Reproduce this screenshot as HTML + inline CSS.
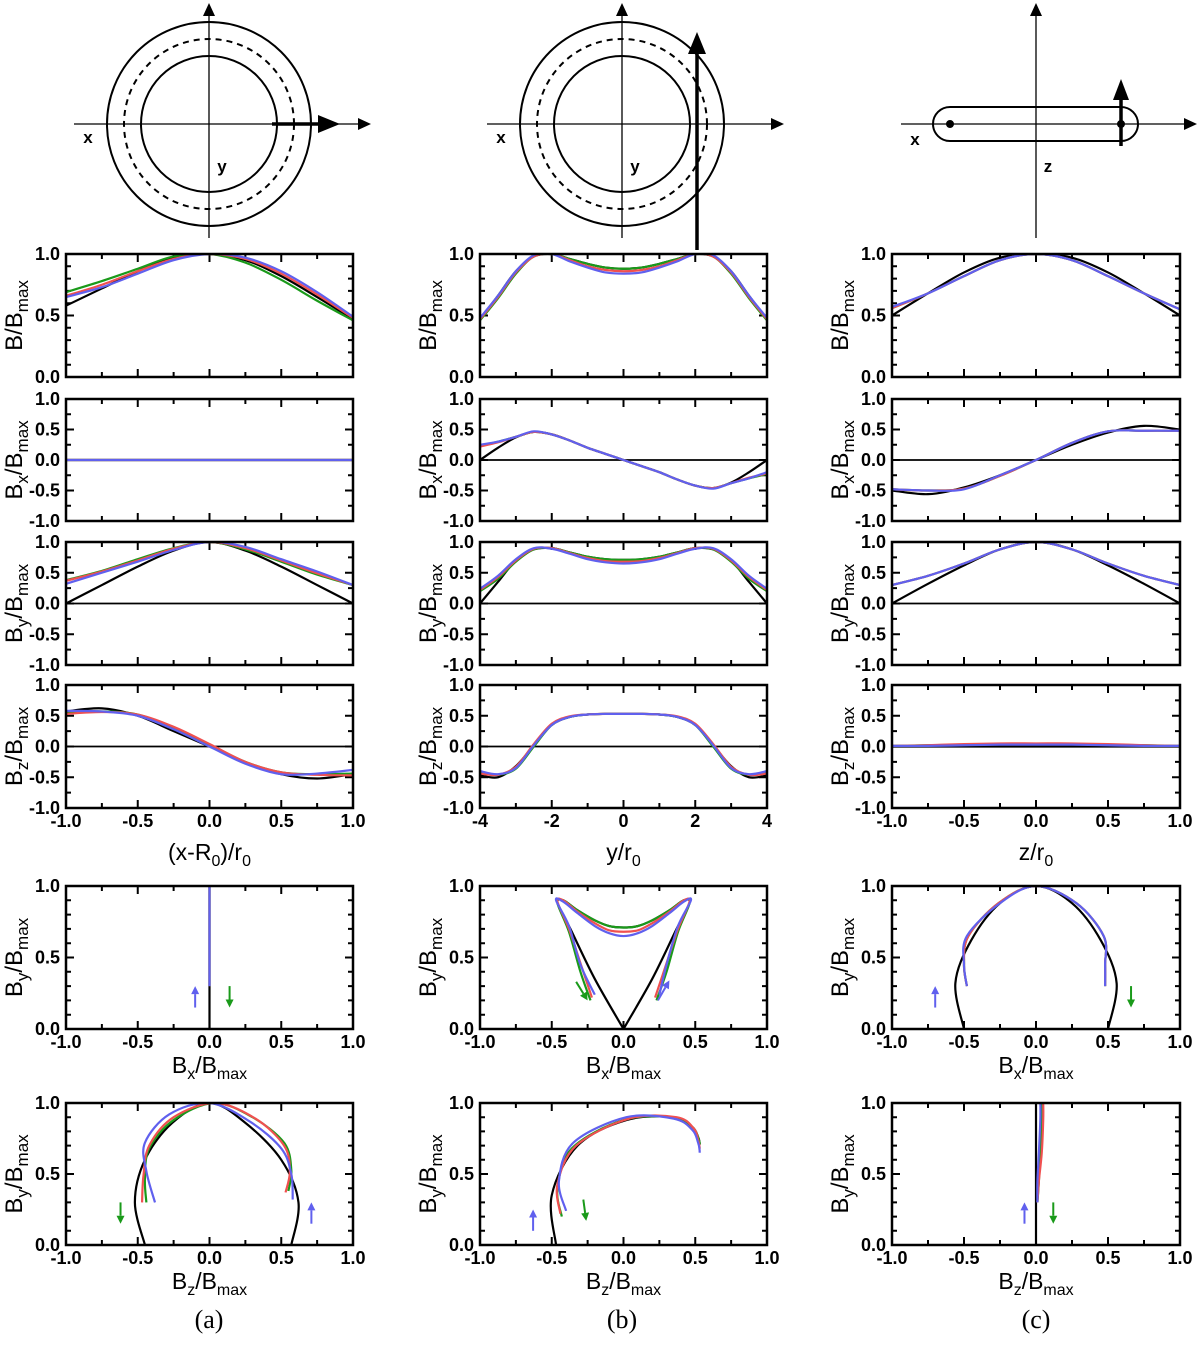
<!DOCTYPE html>
<html><head><meta charset="utf-8"><style>
html,body{margin:0;padding:0;background:#fff}
svg{display:block;font-family:"Liberation Sans",sans-serif}
</style></head><body>
<svg id="fig" width="1200" height="1345" viewBox="0 0 1200 1345" xmlns="http://www.w3.org/2000/svg">
<!-- Diagram a -->
<g fill="none" stroke="#000">
<circle cx="209" cy="124" r="102" stroke-width="2"/>
<circle cx="209" cy="124" r="85" stroke-width="2" stroke-dasharray="6,5"/>
<circle cx="209" cy="124" r="68" stroke-width="2"/>
<line x1="209" y1="238" x2="209" y2="14" stroke-width="1.3"/><path d="M203,16L209,3L215,16z" fill="#000" stroke="none"/>
<line x1="74" y1="124" x2="362" y2="124" stroke-width="1.3"/><path d="M358,118L371,124L358,130z" fill="#000" stroke="none"/>
<line x1="272" y1="124" x2="320" y2="124" stroke-width="3.5"/><path d="M318,115L340,124L318,133z" fill="#000" stroke="none"/>
</g>
<text x="88" y="143" font-size="17" font-weight="bold" text-anchor="middle">x</text>
<text x="222" y="172" font-size="17" font-weight="bold" text-anchor="middle">y</text>
<!-- Diagram b -->
<g fill="none" stroke="#000">
<circle cx="622" cy="124" r="102" stroke-width="2"/>
<circle cx="622" cy="124" r="85" stroke-width="2" stroke-dasharray="6,5"/>
<circle cx="622" cy="124" r="68" stroke-width="2"/>
<line x1="622" y1="238" x2="622" y2="14" stroke-width="1.3"/><path d="M616,16L622,3L628,16z" fill="#000" stroke="none"/>
<line x1="487" y1="124" x2="775" y2="124" stroke-width="1.3"/><path d="M771,118L784,124L771,130z" fill="#000" stroke="none"/>
<line x1="697" y1="250" x2="697" y2="50" stroke-width="3.5"/><path d="M688,54L697,32L706,54z" fill="#000" stroke="none"/>
</g>
<text x="501" y="143" font-size="17" font-weight="bold" text-anchor="middle">x</text>
<text x="635" y="172" font-size="17" font-weight="bold" text-anchor="middle">y</text>
<!-- Diagram c -->
<g fill="none" stroke="#000">
<line x1="1036" y1="238" x2="1036" y2="14" stroke-width="1.3"/><path d="M1030,16L1036,3L1042,16z" fill="#000" stroke="none"/>
<line x1="901" y1="124" x2="1186" y2="124" stroke-width="1.3"/><path d="M1184,118L1197,124L1184,130z" fill="#000" stroke="none"/>
<rect x="933" y="107" width="205" height="34" rx="17" stroke-width="2"/>
<circle cx="950" cy="124" r="3.5" fill="#000"/><circle cx="1121" cy="124" r="3.5" fill="#000"/>
<line x1="1121" y1="146" x2="1121" y2="96" stroke-width="3.5"/><path d="M1113,100L1121,79L1129,100z" fill="#000" stroke="none"/>
</g>
<text x="915" y="145" font-size="17" font-weight="bold" text-anchor="middle">x</text>
<text x="1048" y="172" font-size="17" font-weight="bold" text-anchor="middle">z</text>
<g id="plots"></g>
<text x="209" y="1328" font-size="26" font-family="Liberation Serif,serif" text-anchor="middle">(a)</text>
<text x="622" y="1328" font-size="26" font-family="Liberation Serif,serif" text-anchor="middle">(b)</text>
<text x="1036" y="1328" font-size="26" font-family="Liberation Serif,serif" text-anchor="middle">(c)</text>
</svg>
<script>
// ---- data ----
const xA = [-1,-0.75,-0.5,-0.25,0,0.25,0.5,0.75,1];
const xB = [-4,-3.5,-3,-2.5,-2,-1.5,-1,-0.5,0,0.5,1,1.5,2,2.5,3,3.5,4];
const seriesColors = ['#000000','#1a9a1a','#f05050','#6060ee'];
const seriesNames = ['black','green','red','blue'];
// column a
const aB_k=[0.58,0.72,0.86,0.97,1,0.95,0.82,0.65,0.47];
const aB_g=[0.69,0.78,0.88,0.98,1,0.93,0.79,0.62,0.46];
const aB_r=[0.66,0.75,0.86,0.96,1,0.96,0.84,0.67,0.48];
const aB_b=[0.65,0.73,0.84,0.95,1,0.97,0.86,0.69,0.49];
const aBx_k=[0,0,0,0,0,0,0,0,0];
const aBx_g=[0,0,0,0,0,0,0,0,0];
const aBx_r=[0,0,0,0,0,0,0,0,0];
const aBx_b=[0,0,0,0,0,0,0,0,0];
const aBy_k=[0,0.3,0.6,0.86,1,0.86,0.6,0.3,0];
const aBy_g=[0.38,0.53,0.72,0.9,1,0.88,0.68,0.47,0.3];
const aBy_r=[0.37,0.52,0.7,0.89,1,0.9,0.7,0.49,0.3];
const aBy_b=[0.32,0.5,0.68,0.87,1,0.92,0.72,0.52,0.3];
const aBz_k=[0.57,0.62,0.5,0.25,0,-0.26,-0.45,-0.52,-0.45];
const aBz_g=[0.55,0.57,0.52,0.3,0.03,-0.25,-0.42,-0.45,-0.44];
const aBz_r=[0.53,0.56,0.52,0.32,0.04,-0.25,-0.42,-0.46,-0.47];
const aBz_b=[0.58,0.57,0.5,0.28,0,-0.28,-0.45,-0.44,-0.38];
// column b
const bB_k=[0.47,0.66,0.86,0.98,1,0.96,0.92,0.89,0.88,0.89,0.92,0.96,1,0.98,0.86,0.66,0.47];
const bB_g=[0.46,0.64,0.84,0.98,1,0.96,0.92,0.89,0.88,0.89,0.92,0.96,1,0.98,0.84,0.64,0.46];
const bB_r=[0.47,0.65,0.85,0.98,1,0.95,0.9,0.87,0.86,0.87,0.9,0.95,1,0.98,0.85,0.65,0.47];
const bB_b=[0.48,0.66,0.86,0.99,1,0.94,0.89,0.85,0.84,0.85,0.89,0.94,1,0.99,0.86,0.66,0.48];
const bBx_k=[0,0.2,0.37,0.46,0.42,0.32,0.2,0.1,0,-0.1,-0.2,-0.32,-0.42,-0.46,-0.37,-0.2,0];
const bBx_g=[0.23,0.3,0.38,0.46,0.42,0.32,0.2,0.1,0,-0.1,-0.2,-0.32,-0.42,-0.46,-0.38,-0.3,-0.23];
const bBx_r=[0.22,0.29,0.38,0.46,0.42,0.32,0.2,0.1,0,-0.1,-0.2,-0.32,-0.42,-0.46,-0.38,-0.29,-0.22];
const bBx_b=[0.25,0.3,0.38,0.47,0.42,0.32,0.2,0.1,0,-0.1,-0.2,-0.32,-0.42,-0.47,-0.38,-0.3,-0.2];
const bBy_k=[0,0.35,0.7,0.88,0.9,0.83,0.76,0.72,0.71,0.72,0.76,0.83,0.9,0.88,0.7,0.35,0];
const bBy_g=[0.2,0.4,0.68,0.88,0.9,0.83,0.76,0.72,0.71,0.72,0.76,0.83,0.9,0.88,0.68,0.4,0.2];
const bBy_r=[0.22,0.43,0.7,0.89,0.9,0.82,0.74,0.69,0.68,0.69,0.74,0.82,0.9,0.89,0.7,0.43,0.22];
const bBy_b=[0.24,0.45,0.72,0.9,0.89,0.81,0.72,0.67,0.65,0.67,0.72,0.81,0.89,0.9,0.72,0.45,0.24];
const bBz_k=[-0.47,-0.5,-0.32,0.02,0.35,0.48,0.52,0.53,0.53,0.53,0.52,0.48,0.35,0.02,-0.32,-0.5,-0.47];
const bBz_g=[-0.43,-0.46,-0.36,0,0.35,0.48,0.52,0.53,0.53,0.53,0.52,0.48,0.35,0,-0.36,-0.46,-0.43];
const bBz_r=[-0.44,-0.46,-0.33,0.04,0.37,0.49,0.52,0.53,0.53,0.53,0.52,0.49,0.37,0.04,-0.33,-0.46,-0.44];
const bBz_b=[-0.4,-0.45,-0.35,0.02,0.35,0.48,0.52,0.53,0.53,0.53,0.52,0.48,0.35,0.02,-0.35,-0.45,-0.4];
// column c
const cB_k=[0.5,0.68,0.85,0.97,1,0.97,0.85,0.68,0.5];
const cB_g=[0.56,0.68,0.82,0.95,1,0.95,0.82,0.68,0.55];
const cB_r=[0.56,0.68,0.82,0.95,1,0.95,0.82,0.68,0.55];
const cB_b=[0.57,0.68,0.82,0.95,1,0.95,0.82,0.68,0.55];
const cBx_k=[-0.5,-0.56,-0.45,-0.25,0,0.25,0.45,0.56,0.5];
const cBx_g=[-0.48,-0.5,-0.47,-0.26,0,0.28,0.47,0.48,0.48];
const cBx_r=[-0.48,-0.5,-0.47,-0.26,0,0.28,0.47,0.48,0.48];
const cBx_b=[-0.48,-0.5,-0.48,-0.25,0,0.28,0.47,0.48,0.48];
const cBy_k=[0,0.32,0.62,0.88,1,0.88,0.62,0.32,0];
const cBy_g=[0.3,0.45,0.65,0.88,1,0.88,0.65,0.45,0.3];
const cBy_r=[0.3,0.45,0.65,0.88,1,0.88,0.65,0.45,0.3];
const cBy_b=[0.3,0.45,0.65,0.88,1,0.88,0.65,0.45,0.3];
const cBz_k=[0,0,0,0,0,0,0,0,0];
const cBz_g=[0.01,0.02,0.03,0.04,0.04,0.04,0.03,0.02,0.01];
const cBz_r=[0.01,0.02,0.04,0.05,0.05,0.05,0.04,0.02,0.01];
const cBz_b=[0.01,0.01,0.02,0.03,0.03,0.03,0.02,0.01,0.01];
// tick labels
const yTicksB=['0.0','0.5','1.0'];
const yTicksComp=['-1.0','-0.5','0.0','0.5','1.0'];
const xTicksA=['-1.0','-0.5','0.0','0.5','1.0'];
const xTicksB=['-4','-2','0','2','4'];
// hodogram direction arrows [x, y, dx, dy, colorIndex] in data units
const arrowsHodo = {
 a5:[[-0.1,0.15,0,0.15,3],[0.14,0.3,0,-0.15,1]],
 a6:[[-0.62,0.3,0,-0.15,1],[0.71,0.15,0,0.15,3]],
 b5:[[-0.33,0.33,0.08,-0.13,1],[0.24,0.2,0.08,0.14,3]],
 b6:[[-0.63,0.1,0,0.15,3],[-0.28,0.32,0.02,-0.15,1]],
 c5:[[-0.7,0.15,0,0.15,3],[0.66,0.3,0,-0.15,1]],
 c6:[[-0.08,0.15,0,0.15,3],[0.12,0.3,0,-0.15,1]]
};

const NS='http://www.w3.org/2000/svg';
const root=document.getElementById('plots');
function mk(tag,attrs,parent){const e=document.createElementNS(NS,tag);for(const k in attrs)e.setAttribute(k,attrs[k]);(parent||root).appendChild(e);return e;}
function spline(pts){
 if(pts.length<2)return '';
 let d='M'+pts[0][0].toFixed(2)+','+pts[0][1].toFixed(2);
 for(let i=0;i<pts.length-1;i++){
  const p0=pts[i-1]||pts[i],p1=pts[i],p2=pts[i+1],p3=pts[i+2]||p2;
  const c1=[p1[0]+(p2[0]-p0[0])/6,p1[1]+(p2[1]-p0[1])/6];
  const c2=[p2[0]-(p3[0]-p1[0])/6,p2[1]-(p3[1]-p1[1])/6];
  d+='C'+c1.map(v=>v.toFixed(2)).join(',')+' '+c2.map(v=>v.toFixed(2)).join(',')+' '+p2.map(v=>v.toFixed(2)).join(',');
 }
 return d;
}
const colX=[[66,353],[480,767],[892,1180]];
let clipN=0;
function ylabel(g,cx,cy,main,sub){
 const t=mk('text',{x:0,y:0,'font-size':24,'text-anchor':'middle',transform:`translate(${cx},${cy}) rotate(-90)`},g);
 
 
 t.innerHTML= sub ? `B<tspan font-size="17" dy="6">${sub}</tspan><tspan dy="-6">/B</tspan><tspan font-size="17" dy="6">max</tspan>` : `B/B<tspan font-size="17" dy="6">max</tspan>`;
}
function xlabel(g,cx,cy,html){
 const t=mk('text',{x:cx,y:cy,'font-size':23,'text-anchor':'middle'},g);
 
 
 t.innerHTML=html;
}
function panel(name,x0,x1,y0,y1,xmin,xmax,ymin,ymax,xMinorStep,yMinorStep,xMajor,yMajor,xLabels,yLabels,showX,zero){
 const g=mk('g',{});
 
 
 const sx=v=>x0+(v-xmin)/(xmax-xmin)*(x1-x0);
 const sy=v=>y1-(v-ymin)/(ymax-ymin)*(y1-y0);
 const id='clip'+(clipN++);
 const cp=mk('clipPath',{id:id},g);mk('rect',{x:x0,y:y0,width:x1-x0,height:y1-y0},cp);
 let tp='';
 for(let v=xmin;v<=xmax+1e-9;v+=xMinorStep){const X=sx(v);const maj=Math.abs(Math.round(v/xMajor)*xMajor-v)<1e-6;const L=maj?8:5;tp+=`M${X},${y1}v${-L}M${X},${y0}v${L}`;}
 for(let v=ymin;v<=ymax+1e-9;v+=yMinorStep){const Y=sy(v);const maj=Math.abs(Math.round(v/yMajor)*yMajor-v)<1e-6;const L=maj?8:5;tp+=`M${x0},${Y}h${L}M${x1},${Y}h${-L}`;}
 mk('path',{d:tp,stroke:'#000','stroke-width':2,fill:'none'},g);
 yLabels.forEach(s=>{const t=mk('text',{x:x0-6,y:sy(parseFloat(s))+6,'font-size':18,'font-weight':'bold','text-anchor':'end'},g);t.textContent=s;});
 if(showX)xLabels.forEach(s=>{const t=mk('text',{x:sx(parseFloat(s)),y:y1+19,'font-size':18,'font-weight':'bold','text-anchor':'middle'},g);t.textContent=s;});
 const inner=mk('g',{'clip-path':`url(#${id})`},g);
 if(zero)mk('line',{x1:x0,x2:x1,y1:sy(0),y2:sy(0),stroke:'#000','stroke-width':1.8},inner);
 mk('rect',{x:x0,y:y0,width:x1-x0,height:y1-y0,fill:'none',stroke:'#000','stroke-width':2.5},g);
 return {g,inner,sx,sy};
}
function drawSeries(p,xs,list,label){
 list.forEach((ys,i)=>{
  const pts=xs.map((x,j)=>[p.sx(x),p.sy(ys[j])]);
  const e=mk('path',{d:spline(pts),fill:'none',stroke:seriesColors[i],'stroke-width':2.2},p.inner);
  
  
 });
}
function drawHodo(p,hx,hy,label,arrows){
 hx.forEach((xs,i)=>{
  const pts=xs.map((x,j)=>[p.sx(x),p.sy(hy[i][j])]);
  const e=mk('path',{d:spline(pts),fill:'none',stroke:seriesColors[i],'stroke-width':2.2},p.inner);
  
  
 });
 arrows.forEach(a=>{
  const X1=p.sx(a[0]),Y1=p.sy(a[1]),X2=p.sx(a[0]+a[2]),Y2=p.sy(a[1]+a[3]);
  const ang=Math.atan2(Y2-Y1,X2-X1);const c=seriesColors[a[4]];
  const bx=X2-8*Math.cos(ang),by=Y2-8*Math.sin(ang);
  const e=mk('path',{d:`M${X1},${Y1}L${bx},${by}`,stroke:c,'stroke-width':2,fill:'none'},p.g);
  
  
  const px=Math.cos(ang+Math.PI/2)*4,py=Math.sin(ang+Math.PI/2)*4;
  const h=mk('path',{d:`M${X2},${Y2}L${bx+px},${by+py}L${bx-px},${by-py}z`,fill:c},p.g);
  
  
 });
}
const rowsY=[[254,377],[399,521],[542,665],[685,808]];
const cols=[
 {k:'a',xs:xA,xmin:-1,xmax:1,minor:0.25,major:0.5,xl:xTicksA,data:[[aB_k,aB_g,aB_r,aB_b],[aBx_k,aBx_g,aBx_r,aBx_b],[aBy_k,aBy_g,aBy_r,aBy_b],[aBz_k,aBz_g,aBz_r,aBz_b]],title:'(x-R<tspan font-size="16" dy="6">0</tspan><tspan dy="-6">)/r</tspan><tspan font-size="16" dy="6">0</tspan>'},
 {k:'b',xs:xB,xmin:-4,xmax:4,minor:1,major:2,xl:xTicksB,data:[[bB_k,bB_g,bB_r,bB_b],[bBx_k,bBx_g,bBx_r,bBx_b],[bBy_k,bBy_g,bBy_r,bBy_b],[bBz_k,bBz_g,bBz_r,bBz_b]],title:'y/r<tspan font-size="16" dy="6">0</tspan>'},
 {k:'c',xs:xA,xmin:-1,xmax:1,minor:0.25,major:0.5,xl:xTicksA,data:[[cB_k,cB_g,cB_r,cB_b],[cBx_k,cBx_g,cBx_r,cBx_b],[cBy_k,cBy_g,cBy_r,cBy_b],[cBz_k,cBz_g,cBz_r,cBz_b]],title:'z/r<tspan font-size="16" dy="6">0</tspan>'}
];
const comps=['B','Bx','By','Bz'],subs=[null,'x','y','z'];
cols.forEach((c,ci)=>{
 const [x0,x1]=colX[ci];
 rowsY.forEach((r,ri)=>{
  const first=ri===0;
  const p=panel(`${c.k}-${comps[ri]}-panel`,x0,x1,r[0],r[1],c.xmin,c.xmax,first?0:-1,1,c.minor,first?0.1:0.25,c.major,0.5,c.xl,first?yTicksB:yTicksComp,ri===3,ri>0);
  drawSeries(p,c.xs,c.data[ri],`${c.k}-${comps[ri]}`);
  ylabel(p.g,x0-44,(r[0]+r[1])/2,'B',subs[ri]);
  if(ri===3)xlabel(p.g,(x0+x1)/2,860,c.title);
 });
 const hrows=[[886,1029,1],[1103,1245,3]];
 hrows.forEach((h,hi)=>{
  const p=panel(`${c.k}-hodogram-${hi?'Bz':'Bx'}-By`,x0,x1,h[0],h[1],-1,1,0,1,0.25,0.1,0.5,0.5,xTicksA,yTicksB,true,false);
  drawHodo(p,c.data[h[2]],c.data[2],`${c.k}-hodo-${hi}`,arrowsHodo[c.k+(hi?'6':'5')]);
  ylabel(p.g,x0-44,(h[0]+h[1])/2,'B','y');
  xlabel(p.g,(x0+x1)/2,h[1]+44,`B<tspan font-size="16" dy="6">${hi?'z':'x'}</tspan><tspan dy="-6">/B</tspan><tspan font-size="16" dy="6">max</tspan>`);
 });
});
</script>
</body></html>
